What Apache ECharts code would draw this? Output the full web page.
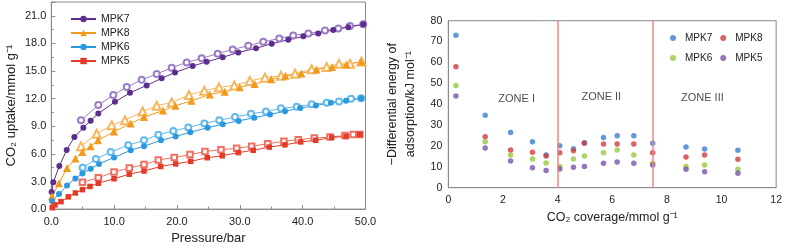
<!DOCTYPE html>
<html>
<head>
<meta charset="utf-8">
<script src="https://cdn.jsdelivr.net/npm/echarts/dist/echarts.min.js"></script>
<style>
  html, body { margin: 0; padding: 0; background: #fff; }
  #chart { width: 785px; height: 250px; }
</style>
</head>
<body>
<div id="chart"></div>
<script>
// ---- left panel: CO2 uptake isotherms (filled = adsorption, open = desorption) ----
const mpk7Ads = [[0.05,1.86],[0.32,2.91],[1.28,4.67],[2.45,6.42],[3.67,7.82],[5.1,8.84],[6.26,9.61],[7.48,10.39],[10.13,11.65],[12.52,12.63],[15.17,13.44],[17.56,14.21],[19.68,14.84],[22.5,15.54],[24.72,16.0],[27.27,16.49],[29.76,17.02],[32.57,17.47],[35.07,17.97],[37.71,18.39],[40.1,18.77],[42.48,19.09],[44.87,19.47],[47.26,19.76],[49.64,20.07]];
const mpk7Des = [[49.64,20.07],[47.53,19.89],[45.67,19.61],[43.55,19.4],[40.9,19.09],[38.5,18.87],[36.28,18.53],[33.73,18.18],[31.35,17.75],[28.86,17.34],[26.48,16.88],[23.93,16.39],[21.54,15.93],[19.16,15.37],[16.77,14.67],[14.38,14.04],[12.0,13.26],[9.87,12.39],[7.48,11.3],[4.73,9.65]];
const mpk8Ads = [[0.1,1.4],[1.23,2.81],[2.5,4.46],[3.83,5.51],[4.95,6.21],[6.27,6.84],[7.43,7.47],[9.98,8.42],[12.63,9.3],[14.75,10.0],[17.78,10.7],[19.74,11.23],[22.3,11.76],[25.2,12.46],[27.6,12.74],[29.98,13.23],[32.36,13.58],[35.0,14.1],[37.25,14.49],[39.8,14.74],[42.2,15.16],[44.67,15.44],[46.95,15.72],[49.34,16.03]];
const mpk8Des = [[49.34,16.03],[47.53,15.79],[45.78,15.79],[43.8,15.44],[41.43,15.19],[38.78,14.7],[36.55,14.49],[34.0,14.28],[31.6,13.93],[29.12,13.44],[26.68,13.23],[24.35,12.87],[21.9,12.39],[19.16,11.58],[16.77,11.23],[14.54,10.6],[11.73,9.65],[9.61,9.12],[7.22,8.18],[4.73,6.84]];
const mpk6Ads = [[0.1,0.88],[1.23,1.65],[2.5,2.56],[3.83,3.33],[4.95,3.86],[6.27,4.39],[7.6,4.91],[9.98,5.61],[12.63,6.39],[14.75,6.84],[17.46,7.47],[19.79,7.89],[22.12,8.35],[24.88,8.84],[27.27,9.23],[29.81,9.58],[32.3,9.93],[34.8,10.28],[37.2,10.63],[39.6,10.98],[42.1,11.26],[44.5,11.55],[46.9,11.76],[49.3,12.03]];
const mpk6Des = [[49.3,12.03],[47.69,12.0],[45.78,11.68],[43.82,11.55],[41.43,11.4],[39.05,11.12],[36.55,10.95],[34.16,10.6],[31.77,10.35],[29.23,10.0],[26.73,9.65],[24.35,9.3],[21.8,8.87],[19.41,8.49],[17.03,8.07],[14.75,7.47],[12.25,6.95],[9.45,6.21],[7.11,5.44],[4.99,4.49]];
const mpk5Ads = [[0.15,0.15],[0.59,0.46],[1.54,0.81],[2.71,1.33],[3.83,1.75],[4.95,2.11],[6.16,2.46],[7.48,2.81],[9.98,3.3],[12.41,3.79],[14.75,4.14],[17.4,4.63],[19.79,4.91],[22.17,5.19],[24.82,5.58],[27.2,5.79],[29.76,6.14],[32.14,6.39],[34.69,6.74],[37.18,6.98],[39.68,7.3],[42.07,7.47],[44.61,7.79],[46.9,7.89],[49.1,8.1]];
const mpk5Des = [[49.1,8.1],[48.05,8.1],[46.73,8.0],[44.34,7.82],[41.85,7.72],[39.3,7.54],[37.02,7.37],[34.43,7.09],[31.88,6.84],[29.5,6.6],[27.0,6.46],[24.45,6.25],[22.07,5.93],[19.57,5.61],[17.03,5.33],[14.75,4.84],[12.41,4.46],[9.98,4.04],[7.48,3.4],[4.95,2.91]];

// ---- right panel: differential energy of adsorption ----
const coverage = [0.28, 1.35, 2.28, 3.08, 3.58, 4.08, 4.58, 4.98, 5.68, 6.18, 6.79, 7.48, 8.70, 9.38, 10.6];
const energyMpk7 = [73.0, 34.7, 26.5, 22.0, 15.7, 20.1, 18.7, 21.5, 24.1, 24.9, 24.9, 21.3, 19.5, 18.5, 17.9];
const energyMpk8 = [58.0, 24.4, 18.1, 17.0, 15.2, 16.8, 17.7, 21.3, 20.9, 20.9, 20.9, 16.8, 14.7, 15.7, 13.6];
const energyMpk6 = [48.9, 22.0, 15.7, 13.8, 11.8, 10.1, 13.8, 15.2, 16.8, 18.1, 15.7, 11.7, 10.1, 10.9, 8.8];
const energyMpk5 = [43.9, 19.0, 12.8, 9.6, 8.2, 9.0, 9.8, 10.2, 11.7, 12.3, 11.7, 10.9, 8.8, 7.7, 6.9];
const zoneNames = ["ZONE I", "ZONE II", "ZONE III"];
const zoneX = [2.5, 5.6, 9.3];
const zoneY = [42.5, 43.5, 43];
const zoneBounds = [4, 7.5];

const legendNames = ["MPK7", "MPK8", "MPK6", "MPK5"];

const font = "Liberation Sans, Arial, sans-serif";
const ink = "#222";
const frame = "#8a8a8a";

function pair(xs, ys) {
  return xs.map((x, i) => [x, ys[i]]);
}

// one branch of an isotherm; open branches use the "empty" symbols (white fill)
function isotherm(name, data, symbol, color, size) {
  return {
    name: name,
    type: "line",
    xAxisIndex: 0,
    yAxisIndex: 0,
    data: data,
    symbol: symbol,
    symbolSize: size,
    showAllSymbol: true,
    lineStyle: { color: color, width: 1 },
    itemStyle: { color: color, borderWidth: 1 }
  };
}

function energyDots(name, values, color) {
  return {
    name: "R " + name,
    type: "scatter",
    xAxisIndex: 1,
    yAxisIndex: 1,
    data: pair(coverage, values),
    symbolSize: 5.5,
    itemStyle: { color: color }
  };
}

const fmt1 = v => v.toFixed(1);

let option = {
  animation: false,
  textStyle: { fontFamily: font, color: ink },
  grid: [
    { left: 51.3, right: 419.5, top: 2, bottom: 35, show: true, borderColor: frame, borderWidth: 1, backgroundColor: "transparent" },
    { left: 448.3, right: 8.3, top: 20.7, bottom: 62.3, show: true, borderColor: frame, borderWidth: 1, backgroundColor: "transparent" }
  ],
  legend: [
    {
      data: legendNames,
      orient: "vertical",
      left: 65,
      top: 8,
      itemWidth: 25,
      itemHeight: 8,
      itemGap: 2,
      textStyle: { fontFamily: font, fontSize: 10.5, color: ink, lineHeight: 12 }
    },
    {
      data: legendNames.map(n => ({ name: "R " + n, icon: "circle" })),
      formatter: n => n.replace("R ", ""),
      orient: "horizontal",
      left: 665,
      top: 27,
      width: 105,
      itemWidth: 14,
      itemHeight: 6,
      itemGap: 8,
      textStyle: { fontFamily: font, fontSize: 10, color: ink, lineHeight: 12 }
    }
  ],
  xAxis: [
    {
      gridIndex: 0,
      type: "value",
      min: 0,
      max: 50,
      interval: 10,
      name: "Pressure/bar",
      nameLocation: "middle",
      nameGap: 20,
      nameTextStyle: { fontSize: 13, color: ink },
      axisLine: { lineStyle: { color: frame } },
      axisTick: { inside: true, length: 4, lineStyle: { color: frame } },
      minorTick: { show: true, splitNumber: 2, length: 2.5, lineStyle: { color: frame } },
      axisLabel: { formatter: fmt1, fontSize: 11, color: ink, margin: 7 },
      splitLine: { show: false }
    },
    {
      gridIndex: 1,
      type: "value",
      min: 0,
      max: 12,
      interval: 2,
      name: "CO₂ coverage/mmol g⁻¹",
      nameLocation: "middle",
      nameGap: 22,
      nameTextStyle: { fontSize: 12.5, color: ink },
      axisLine: { lineStyle: { color: frame } },
      axisTick: { show: false },
      axisLabel: { fontSize: 10.5, color: ink, margin: 7 },
      splitLine: { show: false }
    }
  ],
  yAxis: [
    {
      gridIndex: 0,
      type: "value",
      min: 0,
      max: 22.5,
      interval: 3,
      name: "CO₂ uptake/mmol g⁻¹",
      nameLocation: "middle",
      nameGap: 33,
      nameTextStyle: { fontSize: 13, color: ink },
      axisLine: { lineStyle: { color: frame } },
      axisTick: { inside: true, length: 4, lineStyle: { color: frame } },
      minorTick: { show: true, splitNumber: 2, length: 2.5, lineStyle: { color: frame } },
      axisLabel: { formatter: fmt1, fontSize: 11, color: ink, margin: 5, showMaxLabel: false },
      splitLine: { show: false }
    },
    {
      gridIndex: 1,
      type: "value",
      min: 0,
      max: 80,
      interval: 10,
      name: "−Differential energy of\nadsorption/kJ mol⁻¹",
      nameLocation: "middle",
      nameGap: 29,
      nameTextStyle: { fontSize: 12.5, color: ink, lineHeight: 18 },
      axisLine: { lineStyle: { color: frame } },
      axisTick: { show: false },
      axisLabel: { fontSize: 10.5, color: ink, margin: 6 },
      splitLine: { show: false }
    }
  ],
  series: [
    isotherm("MPK7 des", mpk7Des, "emptyCircle", "#9d7cc7", 6),
    isotherm("MPK7", mpk7Ads, "circle", "#5e2e8e", 6),
    isotherm("MPK8 des", mpk8Des, "emptyTriangle", "#f6b65c", 8),
    isotherm("MPK8", mpk8Ads, "triangle", "#f29a1b", 8),
    isotherm("MPK6 des", mpk6Des, "emptyCircle", "#62b9ec", 6),
    isotherm("MPK6", mpk6Ads, "circle", "#2a9ae0", 6),
    isotherm("MPK5 des", mpk5Des, "emptyRect", "#ef6f61", 5.5),
    isotherm("MPK5", mpk5Ads, "rect", "#e53a27", 5.5),

    energyDots("MPK7", energyMpk7, "#3b7fd1"),
    energyDots("MPK8", energyMpk8, "#d23c3c"),
    energyDots("MPK6", energyMpk6, "#96c93d"),
    energyDots("MPK5", energyMpk5, "#7a52ae"),
    {
      name: "zones",
      type: "scatter",
      xAxisIndex: 1,
      yAxisIndex: 1,
      data: pair(zoneX, zoneY),
      symbolSize: 0,
      label: {
        show: true,
        position: "inside",
        formatter: p => zoneNames[p.dataIndex],
        fontFamily: font,
        fontSize: 11,
        color: ink
      },
      markLine: {
        silent: true,
        symbol: "none",
        label: { show: false },
        lineStyle: { color: "#f28585", width: 1.5, type: "solid" },
        data: zoneBounds.map(b => ({ xAxis: b }))
      }
    }
  ]
};

let myChart = echarts.init(document.getElementById("chart"));
myChart.setOption(option);
</script>
</body>
</html>
